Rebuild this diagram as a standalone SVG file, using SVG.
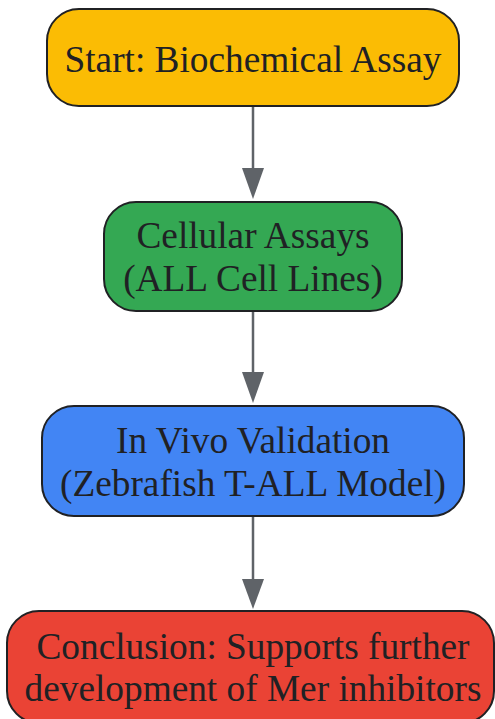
<svg xmlns="http://www.w3.org/2000/svg" width="495" height="719" viewBox="0 0 495 719">
<style>
.n{stroke:#202124;stroke-width:2}
.t{font-family:"Liberation Serif","Times New Roman",serif;font-size:37.3px;fill:#202124;text-anchor:middle}
.e{stroke:#5f6368;stroke-width:2.5;fill:none}
.h{fill:#5f6368}
</style>
<g id="edges">
<line class="e" x1="253" y1="106" x2="253" y2="170"/>
<path class="h" d="M242,168 L264,168 L253,199 Z"/>
<line class="e" x1="253" y1="311" x2="253" y2="374"/>
<path class="h" d="M242,372 L264,372 L253,403 Z"/>
<line class="e" x1="253" y1="516" x2="253" y2="581"/>
<path class="h" d="M242,579 L264,579 L253,609 Z"/>
</g>
<g id="start">
<rect class="n" x="47" y="9" width="412" height="97" rx="32" fill="#fbbc04"/>
<text class="t" x="253" y="72">Start: Biochemical Assay</text>
</g>
<g id="cellular">
<rect class="n" x="104" y="202" width="298" height="109" rx="32" fill="#34a853"/>
<text class="t" x="253" y="248">Cellular Assays</text>
<text class="t" x="253" y="291">(ALL Cell Lines)</text>
</g>
<g id="invivo">
<rect class="n" x="42" y="406" width="422" height="110" rx="32" fill="#4285f4"/>
<text class="t" x="253" y="453">In Vivo Validation</text>
<text class="t" x="253" y="496">(Zebrafish T-ALL Model)</text>
</g>
<g id="conclusion">
<rect class="n" x="7" y="611" width="487" height="112" rx="32" fill="#ea4335"/>
<text class="t" x="253" y="659">Conclusion: Supports further</text>
<text class="t" x="253" y="701">development of Mer inhibitors</text>
</g>
</svg>
